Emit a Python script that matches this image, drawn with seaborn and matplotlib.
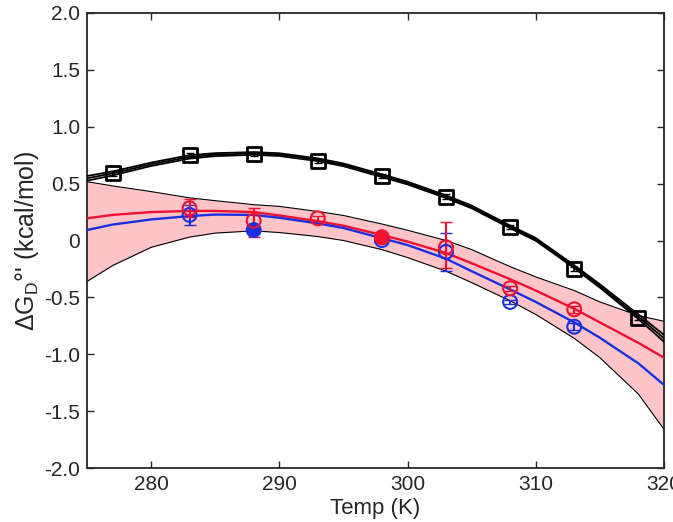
import numpy as np
import pandas as pd
import matplotlib
matplotlib.use("Agg")
import matplotlib.pyplot as plt
import seaborn as sns

# ---------------- data ----------------
temp_black = [277, 283, 288, 293, 298, 303, 308, 313, 318]
dg_black = [0.59, 0.75, 0.76, 0.70, 0.567, 0.385, 0.12, -0.25, -0.68]
err_black = [0.02, 0.02, 0.02, 0.02, 0.02, 0.02, 0.02, 0.02, 0.02]

temp_red = [283, 288, 293, 298, 303, 308, 313]
dg_red = [0.283, 0.174, 0.195, 0.028, -0.06, -0.42, -0.605]
err_red_lo = [0.08, 0.14, 0.02, 0.02, 0.185, 0.02, 0.03]
err_red_hi = [0.08, 0.11, 0.02, 0.02, 0.225, 0.02, 0.03]
red_filled = [False, False, False, True, False, False, False]

temp_blue = [283, 288, 298, 303, 308, 313]
dg_blue = [0.225, 0.092, 0.004, -0.10, -0.54, -0.758]
err_blue = [0.09, 0.03, 0.02, 0.17, 0.02, 0.03]
blue_filled = [False, True, False, False, False, False]

# fitted curves
t_fit = [275, 277, 280, 283, 285, 288, 290, 293, 295, 298, 300, 303, 305, 308, 310, 313, 315, 318, 320]
fit_black = [0.547, 0.59, 0.67, 0.735, 0.755, 0.765, 0.755, 0.71, 0.665, 0.57, 0.505, 0.385, 0.295, 0.12, 0.01, -0.23, -0.40, -0.67, -0.86]
fit_black_hi = [0.567, 0.607, 0.685, 0.75, 0.768, 0.777, 0.767, 0.722, 0.677, 0.582, 0.517, 0.397, 0.307, 0.132, 0.022, -0.217, -0.385, -0.65, -0.83]
fit_black_lo = [0.526, 0.572, 0.655, 0.72, 0.742, 0.753, 0.743, 0.698, 0.653, 0.558, 0.493, 0.373, 0.283, 0.108, -0.002, -0.243, -0.415, -0.69, -0.89]
fit_red = [0.195, 0.225, 0.25, 0.26, 0.26, 0.25, 0.22, 0.17, 0.13, 0.048, -0.01, -0.11, -0.20, -0.34, -0.44, -0.60, -0.72, -0.90, -1.03]
fit_blue = [0.092, 0.14, 0.185, 0.215, 0.228, 0.225, 0.20, 0.15, 0.11, 0.02, -0.04, -0.16, -0.27, -0.43, -0.54, -0.72, -0.855, -1.08, -1.27]
band_hi = [0.517, 0.48, 0.43, 0.375, 0.35, 0.315, 0.30, 0.255, 0.22, 0.145, 0.09, 0.0, -0.08, -0.23, -0.32, -0.44, -0.54, -0.66, -0.71]
band_lo = [-0.36, -0.22, -0.06, 0.03, 0.065, 0.085, 0.07, 0.035, 0.0, -0.08, -0.15, -0.27, -0.37, -0.53, -0.65, -0.86, -1.03, -1.35, -1.66]

x_ticks = [280, 290, 300, 310, 320]
y_ticks = [-2.0, -1.5, -1.0, -0.5, 0, 0.5, 1.0, 1.5, 2.0]
y_tick_labels = ["-2.0", "-1.5", "-1.0", "-0.5", "0", "0.5", "1.0", "1.5", "2.0"]

# ---------------- style ----------------
sns.set_style("ticks")
plt.rcParams["font.family"] = ["Liberation Sans", "DejaVu Sans"]
plt.rcParams["mathtext.fontset"] = "custom"
plt.rcParams["mathtext.rm"] = "Liberation Sans"
plt.rcParams["mathtext.it"] = "Liberation Sans:italic"

RED = "#f01030"
BLUE = "#1a30e0"
AX = "#262626"

fig = plt.figure(figsize=(6.73, 5.22), dpi=100)
ax = fig.add_axes([87 / 673, 1 - 468 / 522, (664 - 87) / 673, (468 - 13) / 522])

fit = pd.DataFrame({"T": t_fit, "black": fit_black, "black_hi": fit_black_hi,
                    "black_lo": fit_black_lo, "red": fit_red, "blue": fit_blue,
                    "hi": band_hi, "lo": band_lo})

ax.fill_between(fit["T"], fit["lo"], fit["hi"], color="#ffc4c8", lw=0, zorder=1)
sns.lineplot(data=fit, x="T", y="hi", color="black", lw=0.8, ax=ax, zorder=2)
sns.lineplot(data=fit, x="T", y="lo", color="black", lw=0.8, ax=ax, zorder=2)
for col in ["black_hi", "black", "black_lo"]:
    sns.lineplot(data=fit, x="T", y=col, color="black", lw=1.3, ax=ax, zorder=3)
sns.lineplot(data=fit, x="T", y="red", color=RED, lw=1.7, ax=ax, zorder=4)
sns.lineplot(data=fit, x="T", y="blue", color=BLUE, lw=1.7, ax=ax, zorder=4)

# error bars
ax.errorbar(temp_black, dg_black, yerr=err_black, fmt="none",
            ecolor="black", elinewidth=1.2, capsize=3, zorder=6)
ax.errorbar(temp_blue, dg_blue, yerr=err_blue, fmt="none",
            ecolor=BLUE, elinewidth=1.5, capsize=4, zorder=5)
ax.errorbar(temp_red, dg_red, yerr=[err_red_lo, err_red_hi], fmt="none",
            ecolor=RED, elinewidth=1.5, capsize=4, zorder=5)

# markers
ax.scatter(temp_black, dg_black, marker="s", s=100, facecolors="none",
           edgecolors="black", linewidths=2.0, zorder=7)
ax.scatter(temp_blue, dg_blue, marker="o", s=100,
           facecolors=[BLUE if f else "none" for f in blue_filled],
           edgecolors=BLUE, linewidths=1.5, zorder=6)
ax.scatter(temp_red, dg_red, marker="o", s=100,
           facecolors=[RED if f else "none" for f in red_filled],
           edgecolors=RED, linewidths=1.5, zorder=6)

ax.set_xlim(275, 320)
ax.set_ylim(-2.0, 2.0)
ax.set_xticks(x_ticks)
ax.set_yticks(y_ticks)
ax.set_yticklabels(y_tick_labels)
ax.tick_params(direction="in", top=True, right=True, length=5, width=1.0,
               labelsize=15, colors=AX, pad=5)
for s in ax.spines.values():
    s.set_linewidth(1.3)
    s.set_color(AX)
    s.set_visible(True)

ax.set_xlabel("Temp (K)", fontsize=16, color=AX, labelpad=3)
ax.set_ylabel(r"$\Delta$G$_{\mathrm{D}}$°' (kcal/mol)", fontsize=18, color=AX, labelpad=2)

fig.savefig("out.png", dpi=100)
